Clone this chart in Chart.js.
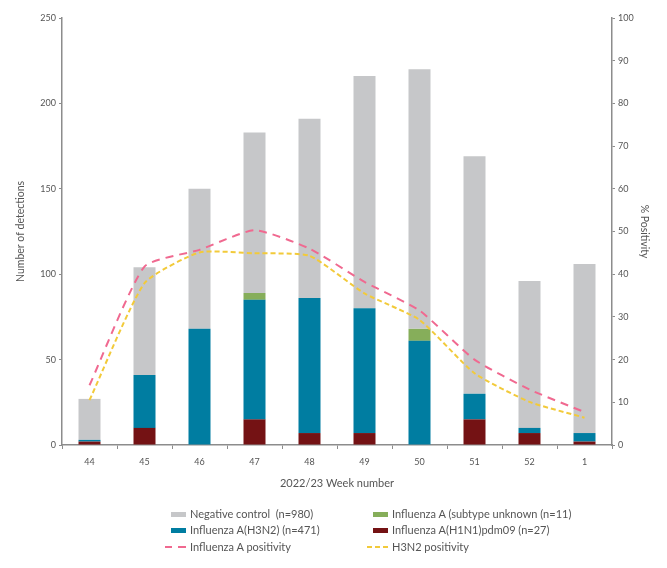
<!DOCTYPE html>
<html>
<head>
<meta charset="utf-8">
<script src="https://cdn.jsdelivr.net/npm/chart.js@4/dist/chart.umd.min.js"></script>
<style>
  html, body { margin: 0; padding: 0; background: #fff; }
  #wrap { position: relative; width: 667px; height: 568px; }
  #legend { position: absolute; left: 0; top: 0; width: 667px; height: 568px; pointer-events: none;
            font-family: Lato, "Open Sans", sans-serif; font-size: 11px; color: #555; }
  .li { position: absolute; height: 14px; line-height: 14px; white-space: pre; }
  .sw { position: absolute; top: 5px; height: 5px; }
  .dash { position: absolute; top: 6px; height: 2px; }
</style>
</head>
<body>
<div id="wrap">
  <canvas id="c" width="667" height="568"></canvas>
  <div id="legend"></div>
</div>
<script>
const weeks = ['44','45','46','47','48','49','50','51','52','1'];
const h1n1 = [2, 10, 0, 15, 7, 7, 0, 15, 7, 2];
const h3n2 = [1, 31, 68, 70, 79, 73, 61, 15, 3, 5];
const subtypeUnknown = [0, 0, 0, 4, 0, 0, 7, 0, 0, 0];
const negativeControl = [24, 63, 82, 94, 105, 136, 152, 139, 86, 99];
const fluAPositivity = [14, 41.8, 45.7, 50.3, 46, 38.2, 31.5, 20, 13, 7.7];
const h3n2Positivity = [10.5, 37.9, 45.1, 44.9, 44.3, 35.5, 29.3, 16.8, 10.1, 6.4];

const seriesLabels = {
  neg: 'Negative control  (n=980)',
  unk: 'Influenza A (subtype unknown (n=11)',
  h3: 'Influenza A(H3N2) (n=471)',
  h1: 'Influenza A(H1N1)pdm09 (n=27)',
  fluA: 'Influenza A positivity',
  h3pos: 'H3N2 positivity'
};

const C = { neg: '#c6c7c9', unk: '#86ae5a', h3: '#007da1', h1: '#741214', fluA: '#f06990', h3pos: '#f2ca3a' };
const FONT = 'Lato, "Open Sans", sans-serif';
const TXT = '#555';
const AX = '#8c8c8c';

const barCommon = { type: 'bar', yAxisID: 'y', stack: 's', barPercentage: 0.4, categoryPercentage: 1.0, order: 2, borderWidth: 0 };

new Chart(document.getElementById('c'), {
  data: {
    labels: weeks,
    datasets: [
      Object.assign({ label: seriesLabels.h1, data: h1n1, backgroundColor: C.h1 }, barCommon),
      Object.assign({ label: seriesLabels.h3, data: h3n2, backgroundColor: C.h3 }, barCommon),
      Object.assign({ label: seriesLabels.unk, data: subtypeUnknown, backgroundColor: C.unk }, barCommon),
      Object.assign({ label: seriesLabels.neg, data: negativeControl, backgroundColor: C.neg }, barCommon),
      { type: 'line', label: seriesLabels.fluA, data: fluAPositivity, yAxisID: 'y1', borderColor: C.fluA,
        borderWidth: 2, borderDash: [8, 6], pointRadius: 0, tension: 0.18, fill: false, order: 0 },
      { type: 'line', label: seriesLabels.h3pos, data: h3n2Positivity, yAxisID: 'y1', borderColor: C.h3pos,
        borderWidth: 2, borderDash: [5, 3], pointRadius: 0, tension: 0.18, fill: false, order: 1 }
    ]
  },
  options: {
    responsive: false,
    animation: false,
    layout: { padding: { top: 18, bottom: 74, left: 0, right: 0 } },
    plugins: { legend: { display: false }, tooltip: { enabled: false } },
    scales: {
      x: {
        stacked: true,
        grid: { display: true, offset: true, drawOnChartArea: false, drawTicks: true, tickLength: 4, color: AX, lineWidth: 1 },
        border: { display: true, color: AX, width: 1.5 },
        ticks: { font: { family: FONT, size: 9 }, color: TXT, padding: 8 },
        title: { display: true, text: '2022/23 Week number', font: { family: FONT, size: 11 }, color: TXT, padding: { top: 2 } },
        afterFit: s => { s.height = 49; }
      },
      y: {
        stacked: true, position: 'left', min: 0, max: 250,
        grid: { display: true, drawOnChartArea: false, drawTicks: true, tickLength: 3, color: AX },
        border: { display: true, color: AX, width: 1.5 },
        ticks: { stepSize: 50, font: { family: FONT, size: 9 }, color: TXT, padding: 3 },
        title: { display: true, text: 'Number of detections', font: { family: FONT, size: 10.5 }, color: TXT, padding: { top: 14, bottom: 0 } },
        afterFit: s => { s.width = 62; }
      },
      y1: {
        position: 'right', min: 0, max: 100,
        grid: { display: true, drawOnChartArea: false, drawTicks: true, tickLength: 3, color: AX },
        border: { display: true, color: AX, width: 1.5 },
        ticks: { stepSize: 10, font: { family: FONT, size: 9 }, color: TXT, padding: 3 },
        title: { display: true, text: '% Positivity', font: { family: FONT, size: 10.5 }, color: TXT, padding: { top: 16, bottom: 0 } },
        afterFit: s => { s.width = 55; }
      }
    }
  }
});

// HTML legend in two columns
const legendItems = [
  { key: 'neg', kind: 'box', col: 0, row: 0 },
  { key: 'unk', kind: 'box', col: 1, row: 0 },
  { key: 'h3', kind: 'box', col: 0, row: 1 },
  { key: 'h1', kind: 'box', col: 1, row: 1 },
  { key: 'fluA', kind: 'dashL', col: 0, row: 2 },
  { key: 'h3pos', kind: 'dashS', col: 1, row: 2 }
];
const leg = document.getElementById('legend');
const colText = [190, 392];
const rowY = [507, 523, 540];
legendItems.forEach(it => {
  const d = document.createElement('div');
  d.className = 'li';
  d.style.left = colText[it.col] + 'px';
  d.style.top = rowY[it.row] + 'px';
  d.textContent = seriesLabels[it.key];
  const m = document.createElement('div');
  if (it.kind === 'box') {
    m.className = 'sw';
    m.style.left = '-19px'; m.style.width = '15px';
    m.style.background = C[it.key];
  } else {
    m.className = 'dash';
    m.style.left = '-25px'; m.style.width = '21px';
    m.style.background = it.kind === 'dashL'
      ? 'linear-gradient(to right, ' + C[it.key] + ' 0 7px, transparent 7px 13px, ' + C[it.key] + ' 13px 21px)'
      : 'repeating-linear-gradient(to right, ' + C[it.key] + ' 0 5px, transparent 5px 8px)';
  }
  d.appendChild(m);
  leg.appendChild(d);
});
</script>
</body>
</html>
